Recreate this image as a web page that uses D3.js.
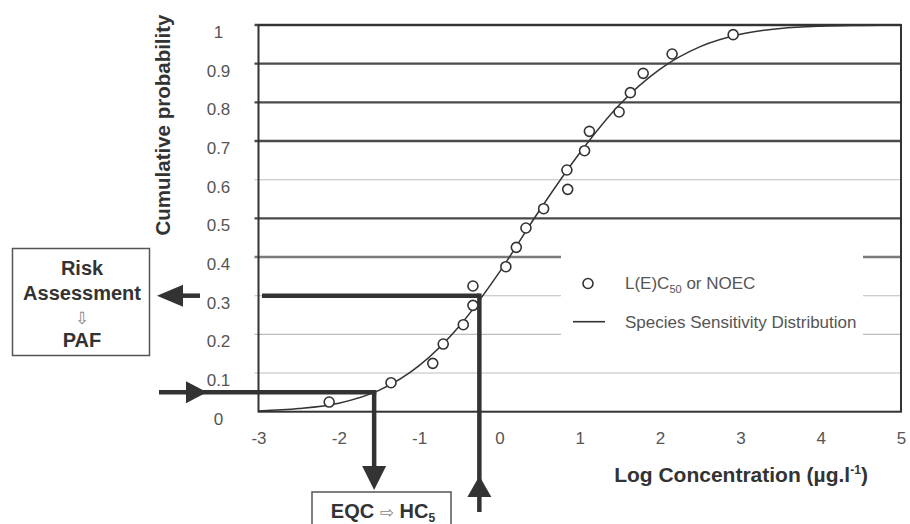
<!DOCTYPE html>
<html>
<head>
<meta charset="utf-8">
<script src="https://cdn.jsdelivr.net/npm/d3@7"></script>
<style>
  html, body { margin: 0; padding: 0; background: #fff; }
  svg { display: block; font-family: "Liberation Sans", Arial, "DejaVu Sans", sans-serif; }
</style>
</head>
<body>
<svg id="chart" width="910" height="524"></svg>
<script>
// Observed toxicity endpoints (log concentration) and their plotting positions
const obsLogConc = [-2.12, -1.35, -0.83, -0.70, -0.45, -0.33, -0.33, 0.08, 0.21, 0.33,
                    0.55, 0.85, 0.84, 1.06, 1.12, 1.49, 1.63, 1.79, 2.15, 2.91];
const obsProb    = [0.025, 0.075, 0.125, 0.175, 0.225, 0.275, 0.325, 0.375, 0.425, 0.475,
                    0.525, 0.575, 0.625, 0.675, 0.725, 0.775, 0.825, 0.875, 0.925, 0.975];

// Species sensitivity distribution curve
const ssdLogConc = [-3, -2.5, -2, -1.5, -1, -0.5, 0, 0.5, 1, 1.5, 2, 2.5, 3, 3.5, 4, 4.5, 5];
const ssdProb    = [0.002, 0.008, 0.022, 0.055, 0.119, 0.221, 0.361, 0.521, 0.669, 0.795,
                    0.886, 0.944, 0.976, 0.991, 0.997, 0.999, 1.0];

// Axis ticks
const xTicks = [-3, -2, -1, 0, 1, 2, 3, 4, 5];
const xTickLabels = ["-3", "-2", "-1", "0", "1", "2", "3", "4", "5"];
const yTicks = [0, 0.1, 0.2, 0.3, 0.4, 0.5, 0.6, 0.7, 0.8, 0.9, 1];
const yTickLabels = ["0", "0.1", "0.2", "0.3", "0.4", "0.5", "0.6", "0.7", "0.8", "0.9", "1"];

// Worked examples: HC5, PAF read at a given concentration
const hc5 = { logConc: -1.56, prob: 0.05 };
const paf = { logConc: -0.25, prob: 0.3 };

const svg = d3.select("#chart");
const x = d3.scaleLinear().domain([-3, 5]).range([258.5, 901]);
const y = d3.scaleLinear().domain([0, 1]).range([411.7, 25]);

const dark = "#333";

// Gridlines: heavy and light rules
const heavy = new Set([0.9, 0.8, 0.7, 0.5, 1]);
const medium = new Set([0.4]);
const grid = svg.append("g");
grid.selectAll("line").data(yTicks.filter(t => t > 0)).join("line")
  .attr("x1", x(-3) - 4).attr("x2", x(5))
  .attr("y1", d => y(d)).attr("y2", d => y(d))
  .attr("stroke", d => heavy.has(d) ? "#4a4a4a" : medium.has(d) ? "#7a7a7a" : "#bdbdbd")
  .attr("stroke-width", d => heavy.has(d) || medium.has(d) ? 2.4 : 1.1);

// Legend background breaks the gridlines
svg.append("rect").attr("x", 561).attr("y", 240).attr("width", 302).attr("height", 110)
  .attr("fill", "#fff");

// Plot frame
svg.append("rect")
  .attr("x", x(-3)).attr("y", y(1))
  .attr("width", x(5) - x(-3)).attr("height", y(0) - y(1))
  .attr("fill", "none").attr("stroke", dark).attr("stroke-width", 2);

// Axes (labels only)
const yAxis = svg.append("g").attr("transform", `translate(${x(-3)},0)`)
  .call(d3.axisLeft(y).tickValues(yTicks).tickFormat((d, i) => yTickLabels[i]).tickSize(0));
yAxis.select(".domain").remove();
yAxis.selectAll("text")
  .attr("x", -40).attr("y", 7).attr("text-anchor", "middle")
  .attr("font-size", 17).attr("fill", "#555")
  .attr("font-family", "Liberation Sans, Arial, sans-serif");

const xAxis = svg.append("g").attr("transform", `translate(0,${y(0)})`)
  .call(d3.axisBottom(x).tickValues(xTicks).tickFormat((d, i) => xTickLabels[i]).tickSize(0));
xAxis.select(".domain").remove();
xAxis.selectAll("text")
  .attr("y", 20).attr("font-size", 17).attr("fill", "#555")
  .attr("font-family", "Liberation Sans, Arial, sans-serif");

// Axis titles
svg.append("text")
  .attr("transform", "translate(170,125) rotate(-90)")
  .attr("text-anchor", "middle").attr("font-weight", "bold").attr("font-size", 20.5)
  .attr("fill", dark).text("Cumulative probability");

const xt = svg.append("text")
  .attr("x", 741).attr("y", 482).attr("text-anchor", "middle")
  .attr("font-weight", "bold").attr("font-size", 21).attr("fill", dark);
xt.append("tspan").text("Log Concentration (\u00b5g.l");
xt.append("tspan").attr("dy", -8).attr("font-size", 12).text("-1");
xt.append("tspan").attr("dy", 8).text(")");

// SSD curve
const line = d3.line().x(d => x(d[0])).y(d => y(d[1])).curve(d3.curveMonotoneX);
svg.append("path")
  .attr("d", line(ssdLogConc.map((v, i) => [v, ssdProb[i]])))
  .attr("fill", "none").attr("stroke", dark).attr("stroke-width", 1.5);

// Annotation arrows
const thick = 4.5;
const ann = svg.append("g").attr("fill", dark).attr("stroke", dark);

function tri(pts) {
  ann.append("path").attr("d", "M" + pts.map(p => p.join(",")).join("L") + "Z").attr("stroke", "none");
}
function seg(x1, y1, x2, y2) {
  ann.append("line").attr("x1", x1).attr("y1", y1).attr("x2", x2).attr("y2", y2)
    .attr("stroke-width", thick).attr("stroke-linecap", "butt");
}

// HC5: horizontal from the left at p = 0.05, then down to the EQC box
const hx = x(hc5.logConc), hy = y(hc5.prob);
seg(159, hy, hx + thick / 2, hy);
tri([[186, hy - 11], [207, hy], [186, hy + 11]]);
seg(hx, hy, hx, 470);
tri([[hx - 12, 466], [hx + 12, 466], [hx, 490]]);

// PAF: up from a concentration, across to the risk box
const px = x(paf.logConc), py = y(paf.prob);
seg(px, 512, px, py - thick / 2);
tri([[px - 12, 497], [px + 12, 497], [px, 476]]);
seg(262, py, px, py);
seg(200, py, 180, py);
tri([[183, py - 11], [157, py], [183, py + 11]]);

// Observed data points
svg.append("g").selectAll("circle")
  .data(obsLogConc.map((v, i) => [v, obsProb[i]])).join("circle")
  .attr("cx", d => x(d[0])).attr("cy", d => y(d[1])).attr("r", 5)
  .attr("fill", "#fff").attr("stroke", dark).attr("stroke-width", 1.6);

// Legend
const lg = svg.append("g").attr("font-size", 17).attr("fill", "#555");
lg.append("circle").attr("cx", 588).attr("cy", 283.5).attr("r", 5)
  .attr("fill", "#fff").attr("stroke", dark).attr("stroke-width", 1.6);
const l1 = lg.append("text").attr("x", 625).attr("y", 289);
l1.append("tspan").text("L(E)C");
l1.append("tspan").attr("dy", 4).attr("font-size", 11).text("50");
l1.append("tspan").attr("dy", -4).text(" or NOEC");
lg.append("line").attr("x1", 573).attr("x2", 605).attr("y1", 321.7).attr("y2", 321.7)
  .attr("stroke", dark).attr("stroke-width", 1.6);
lg.append("text").attr("x", 625).attr("y", 328).text("Species Sensitivity Distribution");

// Risk assessment box
svg.append("rect").attr("x", 12.5).attr("y", 248.5).attr("width", 137).attr("height", 107)
  .attr("fill", "#fff").attr("stroke", "#555").attr("stroke-width", 1.5);
const rb = svg.append("g").attr("text-anchor", "middle").attr("font-weight", "bold")
  .attr("font-size", 20).attr("fill", dark);
rb.append("text").attr("x", 82).attr("y", 275).text("Risk");
rb.append("text").attr("x", 82).attr("y", 299.5).text("Assessment");
rb.append("text").attr("x", 82).attr("y", 324).attr("font-weight", "normal")
  .attr("font-size", 17).attr("fill", "#888").attr("font-family", "DejaVu Sans, sans-serif")
  .text("\u21e9");
rb.append("text").attr("x", 82).attr("y", 347).text("PAF");

// EQC box
svg.append("rect").attr("x", 312).attr("y", 492).attr("width", 139).attr("height", 40)
  .attr("fill", "#fff").attr("stroke", "#555").attr("stroke-width", 1.5);
const eq = svg.append("text").attr("x", 383).attr("y", 518).attr("text-anchor", "middle")
  .attr("font-weight", "bold").attr("font-size", 20).attr("fill", dark);
eq.append("tspan").text("EQC ");
eq.append("tspan").attr("font-weight", "normal").attr("fill", "#888")
  .attr("font-family", "DejaVu Sans, sans-serif").attr("font-size", 17).text("\u21e8");
eq.append("tspan").text(" HC");
eq.append("tspan").attr("dy", 4).attr("font-size", 12).text("5");
</script>
</body>
</html>
